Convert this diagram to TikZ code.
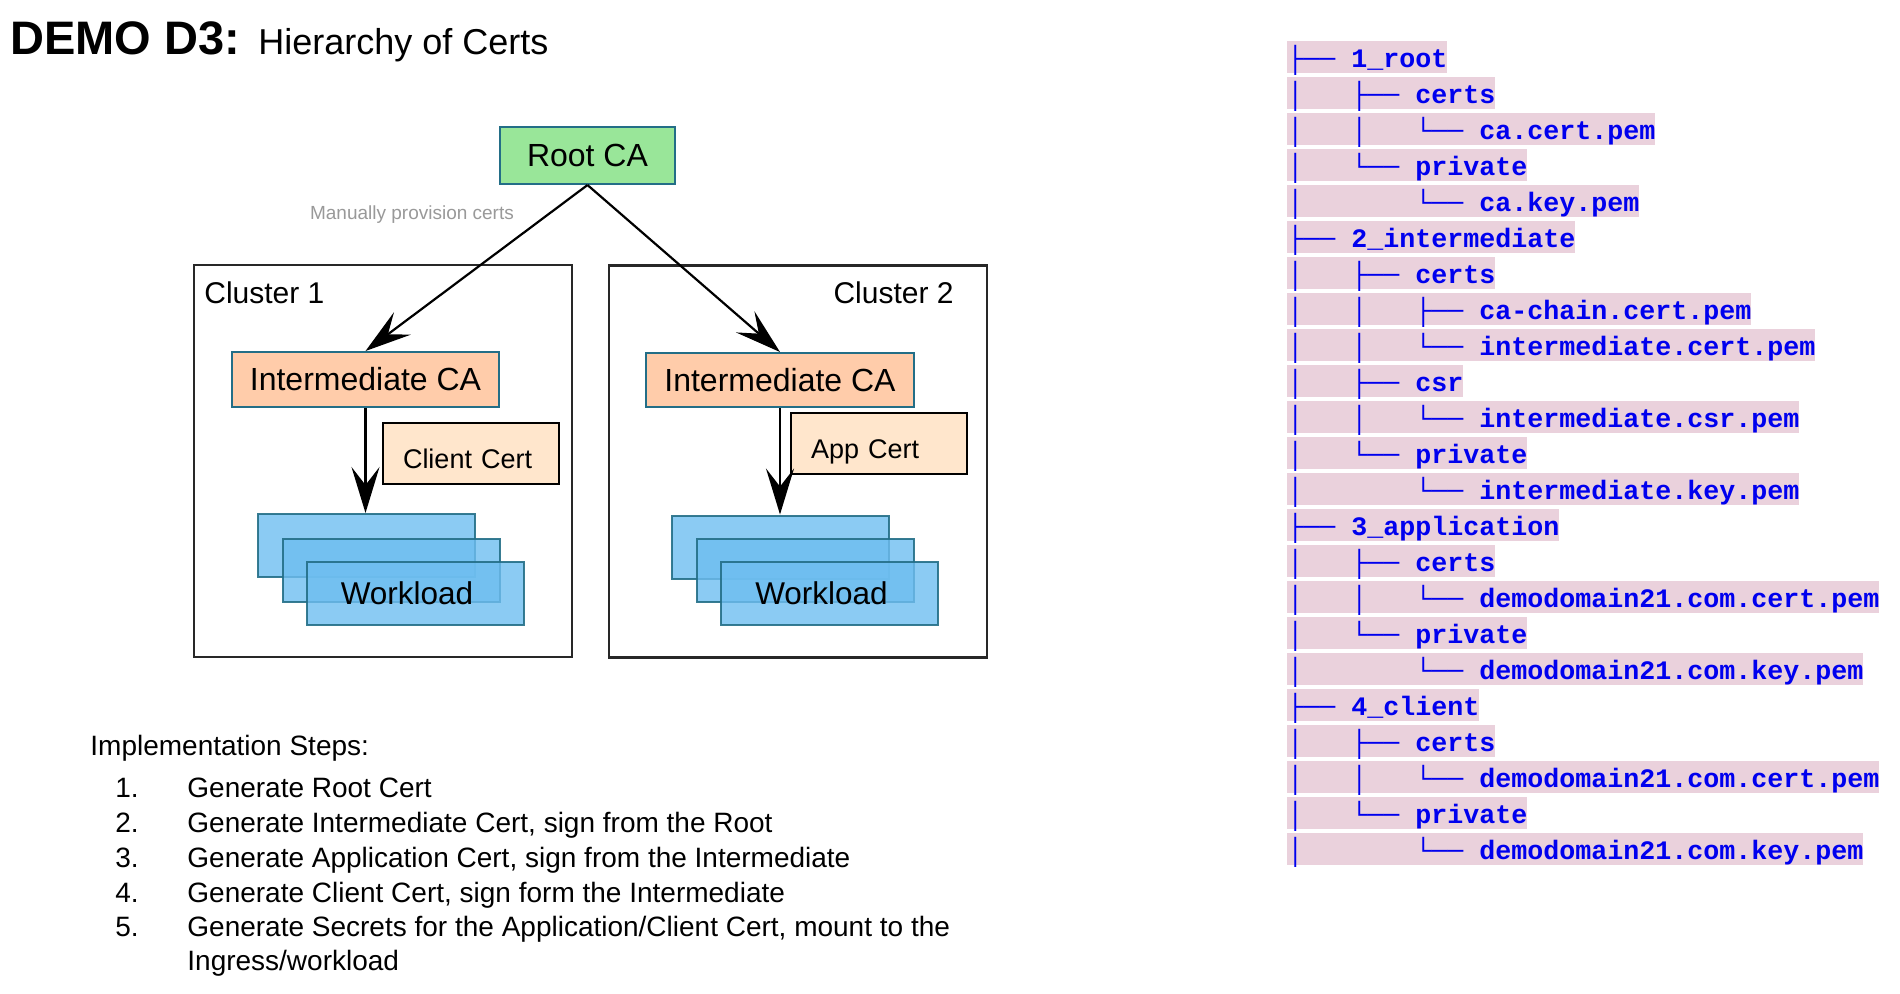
\documentclass[tikz,border=0pt]{standalone}
\usepackage{fontspec}
\setmainfont{Liberation Sans}
\newfontfamily\treefont{Liberation Mono}
\usetikzlibrary{arrows.meta}
\definecolor{tealb}{RGB}{35,110,135}
\definecolor{rootfill}{RGB}{153,230,153}
\definecolor{icafill}{RGB}{255,204,170}
\definecolor{certfill}{RGB}{255,230,204}
\definecolor{wlfill}{RGB}{110,190,240}
\definecolor{hlpink}{RGB}{234,209,220}
\definecolor{treeblue}{RGB}{0,0,238}
\definecolor{clborder}{RGB}{40,40,40}
\newcommand\trow[2]{\node[treerow] (t#1) at (1287,{57+36*(#1-1)}) {#2};}
\begin{document}
\begin{tikzpicture}[x=0.5pt,y=-0.5pt,
  cabox/.style={draw=tealb, line width=1pt, inner sep=0pt, font=\fontsize{16pt}{19pt}\selectfont},
  certbox/.style={draw=black, line width=0.9pt, fill=certfill, minimum width=88pt, minimum height=30.5pt,
     inner xsep=10pt, inner ysep=0pt, text width=68pt, align=left, text height=15pt, text depth=0pt,
     font=\fontsize{13.5pt}{16pt}\selectfont},
  wlbox/.style={draw=tealb, line width=1pt, fill=wlfill, fill opacity=0.8, draw opacity=0.9, text opacity=1,
     minimum width=108.5pt, minimum height=31.5pt, inner sep=0pt, font=\fontsize{15.75pt}{18pt}\selectfont},
  cluster/.style={draw=clborder, line width=1.1pt, minimum width=189pt, minimum height=196pt, inner sep=0pt},
  cltext/.style={font=\fontsize{15pt}{18pt}\selectfont, inner sep=0pt},
  arr/.style={line width=1.1pt, -{Stealth[length=23pt, width=14pt, inset=9pt]}},
  steptext/.style={font=\fontsize{14pt}{17.3pt}\selectfont, inner sep=0pt, anchor=base west},
  treerow/.style={fill=hlpink, inner xsep=0pt, inner ysep=0pt, minimum height=16pt, anchor=west,
     text height=11.33pt, text depth=1.33pt, text=treeblue, font=\treefont\bfseries\fontsize{13.33pt}{16pt}\selectfont}
]
\fill[white] (0,0) rectangle (1900,993);
\useasboundingbox (0,0) rectangle (1900,993);

% title
\node[anchor=base west, inner sep=0pt, font=\bfseries\fontsize{23.5pt}{28pt}\selectfont] (title) at (10,54) {DEMO D3:};
\node[anchor=base west, inner sep=0pt, font=\fontsize{18pt}{22pt}\selectfont] (subtitle) at (258,54) {Hierarchy of Certs};

% clusters
\node[cluster] (cl1) at (383,461) {};
\node[cluster] (cl2) at (798,461.5) {};
\node[cltext, anchor=base west] (cl1t) at (204,303) {Cluster 1};
\node[cltext, anchor=base east] (cl2t) at (954,303) {Cluster 2};

% root
\node[cabox, fill=rootfill, minimum width=87.5pt, minimum height=28.5pt] (root) at (587.5,155.5) {Root CA};
\node[font=\fontsize{9.5pt}{11pt}\selectfont, text=black!40, inner sep=0pt] (manual) at (412,215) {Manually provision certs};

% intermediates
\node[cabox, fill=icafill, minimum width=133.5pt, minimum height=27.5pt] (ica1) at (365.5,379.5) {Intermediate CA};
\node[cabox, fill=icafill, minimum width=134pt, minimum height=27pt] (ica2) at (780,380) {Intermediate CA};

% certs
\node[certbox] (client) at (471,453.5) {Client Cert};
\node[certbox] (app) at (879,443.5) {App Cert};

% workloads
\node[wlbox] (wl1a) at (366.5,545.5) {};
\node[wlbox] (wl1b) at (391,570) {};
\node[wlbox] (wl1c) at (415,593) {Workload\hspace*{8pt}};
\node[wlbox] (wl2a) at (780.5,547) {};
\node[wlbox] (wl2b) at (805.5,570.5) {};
\node[wlbox] (wl2c) at (829.5,593.5) {Workload\hspace*{8pt}};

% arrows
\draw[arr] (root.south) -- (ica1.north);
\draw[arr] (root.south) -- (ica2.north);
\draw[arr] (ica1.south) -- (ica1.south |- wl1a.north);
\draw[arr] (ica2.south) -- (ica2.south |- wl2a.north);

% steps
\node[steptext] (steps) at (90,755) {Implementation Steps:};
\node[steptext] (n1) at (115,797) {1.};
\node[steptext] (s1) at (187,797) {Generate Root Cert};
\node[steptext] (n2) at (115,832) {2.};
\node[steptext] (s2) at (187,832) {Generate Intermediate Cert, sign from the Root};
\node[steptext] (n3) at (115,867) {3.};
\node[steptext] (s3) at (187,867) {Generate Application Cert, sign from the Intermediate};
\node[steptext] (n4) at (115,902) {4.};
\node[steptext] (s4) at (187,902) {Generate Client Cert, sign form the Intermediate};
\node[steptext] (n5) at (115,936) {5.};
\node[steptext] (s5) at (187,936) {Generate Secrets for the Application/Client Cert, mount to the};
\node[steptext] (s5b) at (187,970) {Ingress/workload};

% tree
\trow{1}{├──~1\_root}
\trow{2}{│~~~├──~certs}
\trow{3}{│~~~│~~~└──~ca.cert.pem}
\trow{4}{│~~~└──~private}
\trow{5}{│~~~~~~~└──~ca.key.pem}
\trow{6}{├──~2\_intermediate}
\trow{7}{│~~~├──~certs}
\trow{8}{│~~~│~~~├──~ca-chain.cert.pem}
\trow{9}{│~~~│~~~└──~intermediate.cert.pem}
\trow{10}{│~~~├──~csr}
\trow{11}{│~~~│~~~└──~intermediate.csr.pem}
\trow{12}{│~~~└──~private}
\trow{13}{│~~~~~~~└──~intermediate.key.pem}
\trow{14}{├──~3\_application}
\trow{15}{│~~~├──~certs}
\trow{16}{│~~~│~~~└──~demodomain21.com.cert.pem}
\trow{17}{│~~~└──~private}
\trow{18}{│~~~~~~~└──~demodomain21.com.key.pem}
\trow{19}{├──~4\_client}
\trow{20}{│~~~├──~certs}
\trow{21}{│~~~│~~~└──~demodomain21.com.cert.pem}
\trow{22}{│~~~└──~private}
\trow{23}{│~~~~~~~└──~demodomain21.com.key.pem}
\end{tikzpicture}
\end{document}
